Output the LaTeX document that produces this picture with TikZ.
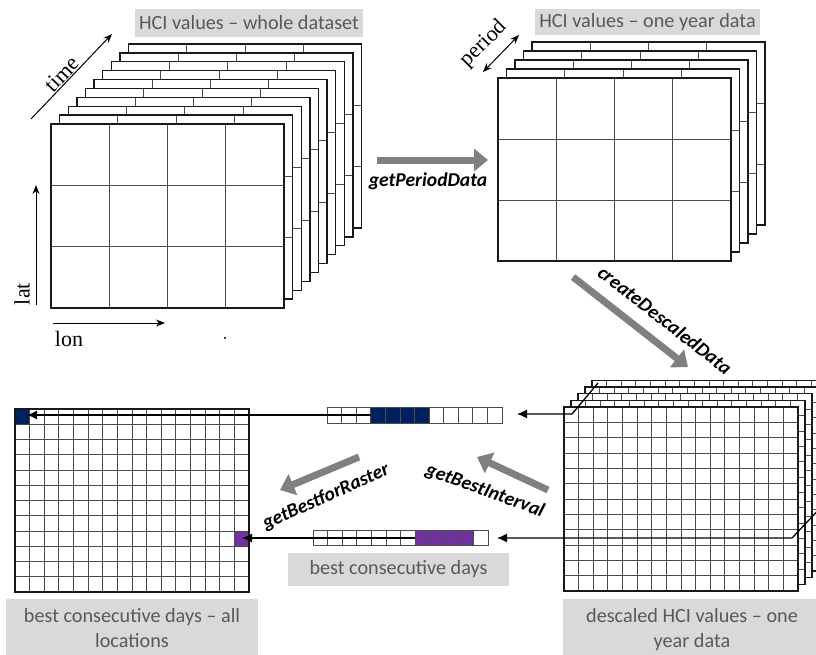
\documentclass[tikz,border=0pt]{standalone}
\usepackage{fontspec}
\setmainfont{Carlito}
\newfontfamily\axisfont{Liberation Serif}
\usetikzlibrary{arrows.meta}
\definecolor{boxgray}{HTML}{D9D9D9}
\definecolor{txtgray}{HTML}{595959}
\definecolor{arrgray}{HTML}{808080}
\definecolor{cellnavy}{HTML}{002060}
\definecolor{cellviolet}{HTML}{7030A0}

\tikzset{
  cellline/.style={line width=0.8pt, draw=black!70},
  frameline/.style={line width=1.4pt, draw=black!90},
  graybox/.style={fill=boxgray, draw=none, inner sep=0pt},
  boxtext/.style={text=txtgray, font=\fontsize{20.2}{25}\selectfont, align=center, inner sep=0pt},
  fnlabel/.style={font=\fontsize{19.6}{21}\selectfont\bfseries\itshape, text=black, inner sep=0pt},
  axislabel/.style={font=\axisfont\fontsize{22}{24}\selectfont, inner sep=0pt},
  axisarrow/.style={line width=1pt, -{Stealth[length=9pt,width=7pt]}},
  bigarrow/.style={line width=7pt, draw=arrgray, -{Triangle[length=14pt,width=22pt]}},
  linkarrow/.style={line width=1.3pt, -{Latex[length=10pt,width=9pt]}},
}

\newcommand\rasterlayer[6]{%
  \fill[white] ({#1},{#2}) rectangle ++(#3,#4);
  \foreach \ci in {1,...,#5} {\draw[cellline] ({#1+#3*\ci/#5},{#2}) -- ++(0,#4);}
  \foreach \ri in {1,...,#6} {\draw[cellline] ({#1},{#2+#4*\ri/#6}) -- ++(#3,0);}
  \draw[frameline] ({#1},{#2}) rectangle ++(#3,#4);
}

\begin{document}
\begin{tikzpicture}[x=1pt,y=-1pt]
\useasboundingbox (0,0) rectangle (816,654);
\fill[white] (0,0) rectangle (816,654);

% ---- whole dataset stack
\foreach \k in {9,...,0} {\rasterlayer{51+8.6*\k}{124-8.9*\k}{233}{184}{4}{3}}
\node[graybox, minimum width=228pt, minimum height=28pt] (boxwhole) at (249,23) {};
\node[boxtext] (txtwhole) at (249,23) {HCI values -- whole dataset};

% axes
\coordinate (timeA) at (31,119); \coordinate (timeB) at (112,34);
\draw[axisarrow] (timeA) -- (timeB);
\node[axislabel, rotate=46] (ltime) at (62,74) {time};
\coordinate (latA) at (36,305); \coordinate (latB) at (36,185);
\draw[axisarrow] (latA) -- (latB);
\node[axislabel, rotate=90] (llat) at (22,294) {lat};
\coordinate (lonA) at (53,323); \coordinate (lonB) at (165,323);
\draw[axisarrow] (lonA) -- (lonB);
\node[axislabel] (llon) at (69,339) {lon};
\fill (225,338) circle (1.2pt);

% ---- one year stack
\foreach \k in {4,...,0} {\rasterlayer{498+8.5*\k}{78-9*\k}{233}{183}{4}{3}}
\node[graybox, minimum width=225pt, minimum height=26pt] (boxyear) at (647.5,22) {};
\node[boxtext] (txtyear) at (647.5,22) {HCI values -- one year data};
\coordinate (perA) at (483,72); \coordinate (perB) at (519,35);
\draw[line width=1pt, {Stealth[length=9pt,width=7pt]}-{Stealth[length=9pt,width=7pt]}] (perA) -- (perB);
\node[axislabel, rotate=45] (lperiod) at (484,44) {period};

% getPeriodData
\coordinate (gpA) at (377,160); \coordinate (gpB) at (488,160);
\draw[bigarrow] (gpA) -- (gpB);
\node[fnlabel] (lgp) at (428,181) {getPeriodData};

% createDescaledData
\coordinate (cdA) at (573,277); \coordinate (cdB) at (688,367);
\draw[bigarrow] (cdA) -- (cdB);
\node[fnlabel, rotate=-38] (lcd) at (665,320) {createDescaledData};

% ---- descaled stack
\foreach \k in {4,...,0} {\rasterlayer{564+7*\k}{407-6.7*\k}{234}{184}{16}{12}}
\node[graybox, minimum width=258pt, minimum height=60pt, anchor=north west] (boxdesc) at (563,599) {};
\node[boxtext] (txtdesc) at (692,630) {descaled HCI values -- one\\year data};

% ---- result raster
\rasterlayer{15}{409}{234}{183}{16}{12}
\fill[cellnavy] (15,409) rectangle ++(14.625,15.25);
\fill[cellviolet] ({15+15*14.625},{409+8*15.25}) rectangle ++(14.625,15.25);
\foreach \ci in {1,...,16} {\draw[cellline] ({15+14.625*\ci},409) -- ++(0,183);}
\foreach \ri in {1,...,12} {\draw[cellline] (15,{409+15.25*\ri}) -- ++(234,0);}
\draw[frameline] (15,409) rectangle ++(234,183);
\node[graybox, minimum width=252pt, minimum height=60pt, anchor=north west] (boxres) at (6,599) {};
\node[boxtext] (txtres) at (132,628) {best consecutive days -- all\\locations};

% ---- day bars
\foreach \i in {0,...,11} {
  \pgfmathsetmacro\barcol{(\i>2 && \i<7) ? "cellnavy" : "white"}
  \draw[cellline, fill=\barcol] ({327+14.58*\i},407) rectangle ++(14.58,16);
}
\foreach \i in {0,...,11} {
  \pgfmathsetmacro\barcol{(\i>6 && \i<11) ? "cellviolet" : "white"}
  \draw[cellline, fill=\barcol] ({313+14.58*\i},530) rectangle ++(14.58,15);
}
\node[graybox, minimum width=221pt, minimum height=33pt] (boxbest) at (398.5,569.5) {};
\node[boxtext] (txtbest) at (398.5,569.5) {best consecutive days};

% ---- connectors
\coordinate (dsTop) at (598,383); \coordinate (dsTopBend) at (572,414); \coordinate (barTopEnd) at (517,414);
\draw[linkarrow] (dsTop) -- (dsTopBend) -- (barTopEnd);
\coordinate (barTopNavy) at (370.75,415); \coordinate (resNavy) at (27,415);
\draw[linkarrow] (barTopNavy) -- (resNavy);
\coordinate (dsBack) at (826,502); \coordinate (dsBotBend) at (792,538); \coordinate (barBotEnd) at (497,538);
\draw[linkarrow] (dsBack) -- (dsBotBend) -- (barBotEnd);
\coordinate (barBotViolet) at (415,538); \coordinate (resViolet) at (242,538);
\draw[linkarrow] (barBotViolet) -- (resViolet);

% getBestInterval / getBestforRaster
\coordinate (giA) at (548,490); \coordinate (giB) at (477,457);
\draw[bigarrow] (giA) -- (giB);
\node[fnlabel, rotate=-20] (lgi) at (485,491) {getBestInterval};
\coordinate (grA) at (359,457); \coordinate (grB) at (280,490);
\draw[bigarrow] (grA) -- (grB);
\node[fnlabel, rotate=24] (lgr) at (326,497) {getBestforRaster};
\end{tikzpicture}
\end{document}
